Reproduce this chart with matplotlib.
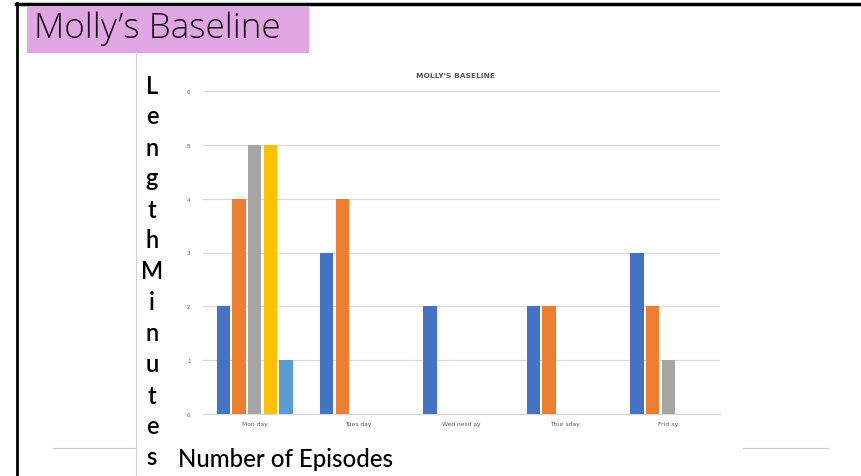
import matplotlib
matplotlib.use("Agg")
import matplotlib.pyplot as plt
from matplotlib.lines import Line2D
from matplotlib.patches import Rectangle
import numpy as np

W, H = 861, 477

days = ["Mon day", "Tues day", "Wed nesd ay", "Thur sday", "Frid ay"]
episode1 = [2, 3, 2, 2, 3]
episode2 = [4, 4, 0, 2, 2]
episode3 = [5, 0, 0, 0, 1]
episode4 = [5, 0, 0, 0, 0]
episode5 = [1, 0, 0, 0, 0]
series = [episode1, episode2, episode3, episode4, episode5]
colors = ["#4472c4", "#ed7d31", "#a5a5a5", "#ffc000", "#5b9bd5"]
y_ticks = [0, 1, 2, 3, 4, 5, 6]


def fx(px):
    return px / W


def fy(py):
    return 1 - py / H


fig = plt.figure(figsize=(W / 100, H / 100), dpi=100)
fig.patch.set_facecolor("white")

# slide frame
fig.add_artist(Line2D([fx(16), fx(861)], [fy(5), fy(5)], color="black", lw=2.5, transform=fig.transFigure))
fig.add_artist(Line2D([fx(17), fx(17)], [fy(4), fy(477)], color="black", lw=2, transform=fig.transFigure))
fig.add_artist(Line2D([fx(136), fx(136)], [fy(53), fy(477)], color="#d0d0d0", lw=0.8, transform=fig.transFigure))
fig.add_artist(Line2D([fx(53), fx(136)], [fy(449), fy(449)], color="#c8c8c8", lw=0.8, transform=fig.transFigure))
fig.add_artist(Line2D([fx(743), fx(828)], [fy(449), fy(449)], color="#c8c8c8", lw=0.8, transform=fig.transFigure))

# pink title box
fig.add_artist(Rectangle((fx(27), fy(54)), fx(309) - fx(27), fy(8) - fy(54),
                         facecolor="#e2a5e4", edgecolor="none", transform=fig.transFigure))
fig.text(fx(34), fy(29), "Molly\u2019s Baseline", fontsize=25.3, family="Open Sans",
         fontweight="light", va="center", ha="left", color="#111111")

# chart
ax = fig.add_axes([fx(203), fy(415), fx(720) - fx(203), fy(92) - fy(415)])
x = np.arange(len(days))
step = 0.152
width = 0.13
for i, (vals, c) in enumerate(zip(series, colors)):
    ax.bar(x + (i - 2) * step, vals, width=width, color=c, zorder=3)

ax.set_xlim(-0.5, len(days) - 0.5)
ax.set_ylim(0, 6)
ax.set_yticks(y_ticks)
ax.set_yticklabels([str(t) for t in y_ticks], fontsize=4, color="#595959")
ax.set_xticks(x)
ax.set_xticklabels(days, fontsize=4.3, color="#595959")
ax.tick_params(length=0, pad=9)
ax.tick_params(axis="x", pad=5)
ax.grid(axis="y", color="#d9d9d9", lw=0.9, zorder=0)
for s in ["top", "right", "left"]:
    ax.spines[s].set_visible(False)
ax.spines["bottom"].set_color("#d9d9d9")
ax.spines["bottom"].set_linewidth(0.9)
ax.set_facecolor("none")

fig.text(fx(456), fy(76), "MOLLY'S BASELINE", fontsize=5.4, fontweight="bold",
         color="#595959", ha="center", va="center")

# stacked y label
label = "LengthMinutes"
for k, ch in enumerate(label):
    fig.text(fx(152), fy(86 + k * 31), ch, fontsize=17, family="Lato", fontweight="semibold",
             ha="center", va="center", color="black")

fig.text(fx(178), fy(460), "Number of Episodes", fontsize=17.3, family="Lato",
         fontweight="medium", ha="left", va="center", color="black")

fig.savefig("out.png", dpi=100)
